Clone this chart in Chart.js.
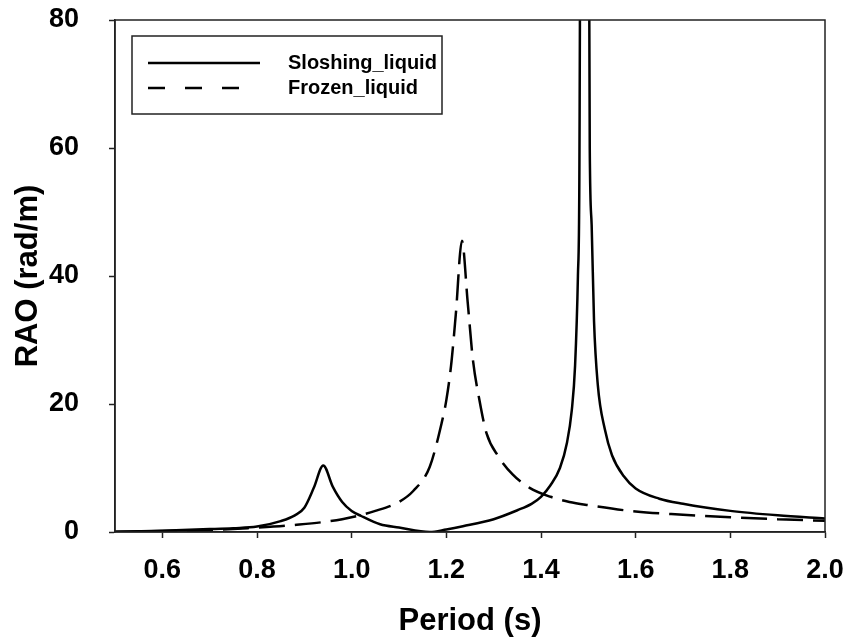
<!DOCTYPE html>
<html>
<head>
<meta charset="utf-8">
<script src="https://cdn.jsdelivr.net/npm/chart.js@4/dist/chart.umd.min.js"></script>
<style>
  html, body { margin: 0; padding: 0; background: #fff; }
  #wrap { width: 850px; height: 643px; position: relative; }
</style>
</head>
<body>
<div id="wrap"><canvas id="c" width="850" height="643"></canvas></div>
<script>
// ---- data ----
const seriesNames = ['Sloshing_liquid', 'Frozen_liquid'];

const sloshPeriod = [0.5, 0.6, 0.7, 0.75, 0.8, 0.85, 0.88, 0.9, 0.92, 0.94, 0.96, 0.98, 1.0, 1.02, 1.06, 1.1, 1.165, 1.2, 1.235, 1.3, 1.35, 1.38, 1.4, 1.42, 1.44, 1.455, 1.465, 1.472, 1.478, 1.481, 1.491, 1.503, 1.507, 1.512, 1.52, 1.535, 1.55, 1.575, 1.6, 1.65, 1.7, 1.8, 1.9, 2.0];
const sloshRAO    = [0.05, 0.2, 0.45, 0.6, 0.85, 1.7, 2.6, 3.8, 6.9, 10.4, 7.1, 4.7, 3.3, 2.5, 1.2, 0.7, 0.0, 0.4, 0.9, 2.0, 3.4, 4.4, 5.5, 7.3, 10.0, 14, 19, 26, 40, 55, 300, 60, 48, 33, 23, 16, 12, 8.7, 6.8, 5.2, 4.4, 3.3, 2.6, 2.1];

const frozenPeriod = [0.5, 0.6, 0.7, 0.78, 0.88, 0.98, 1.05, 1.1, 1.13, 1.165, 1.19, 1.2, 1.21, 1.22, 1.233, 1.245, 1.256, 1.27, 1.285, 1.31, 1.34, 1.376, 1.42, 1.46, 1.5, 1.6, 1.7, 1.8, 1.9, 2.0];
const frozenRAO    = [0.05, 0.15, 0.3, 0.6, 1.1, 2.0, 3.3, 4.7, 6.4, 10.2, 17.0, 20.6, 26.0, 34.0, 45.5, 36.0, 27.0, 20.6, 15.4, 11.8, 9.0, 6.9, 5.5, 4.7, 4.2, 3.2, 2.7, 2.3, 2.0, 1.75];

const xTickValues = [0.6, 0.8, 1.0, 1.2, 1.4, 1.6, 1.8, 2.0];
const yTickValues = [0, 20, 40, 60, 80];
const xTitle = 'Period (s)';
const yTitle = 'RAO (rad/m)';

// ---- build ----
const toPts = (xs, ys) => xs.map((x, i) => ({x: x, y: ys[i]}));
const FONT = "'Liberation Sans', Arial, sans-serif";
const AX = '#222';

const frame = {
  id: 'frame',
  afterDraw(chart) {
    const {ctx, chartArea: a} = chart;
    ctx.save();
    ctx.strokeStyle = AX;
    ctx.lineWidth = 1.5;
    ctx.strokeRect(a.left, a.top, a.right - a.left, a.bottom - a.top);
    // legend box
    const bx = 132, by = 36, bw = 310, bh = 78;
    ctx.fillStyle = '#fff';
    ctx.fillRect(bx, by, bw, bh);
    ctx.strokeRect(bx, by, bw, bh);
    const rows = [63, 88];
    chart.data.datasets.forEach((ds, i) => {
      ctx.beginPath();
      ctx.setLineDash(i === 0 ? [] : [17, 20]);
      ctx.strokeStyle = '#000';
      ctx.lineWidth = 2.5;
      ctx.moveTo(148, rows[i]);
      ctx.lineTo(i === 0 ? 260 : 250, rows[i]);
      ctx.stroke();
      ctx.setLineDash([]);
      ctx.fillStyle = '#000';
      ctx.font = 'bold 20px ' + FONT;
      ctx.textBaseline = 'middle';
      ctx.textAlign = 'left';
      ctx.fillText(ds.label, 288, rows[i]);
    });
    ctx.restore();
  }
};

new Chart(document.getElementById('c'), {
  type: 'line',
  data: {
    datasets: [
      { label: seriesNames[0], data: toPts(sloshPeriod, sloshRAO), borderColor: '#000', borderWidth: 2.5, pointRadius: 0, fill: false, cubicInterpolationMode: 'monotone' },
      { label: seriesNames[1], data: toPts(frozenPeriod, frozenRAO), borderColor: '#000', borderWidth: 2.5, borderDash: [26, 10], pointRadius: 0, fill: false, cubicInterpolationMode: 'monotone' }
    ]
  },
  options: {
    responsive: false,
    animation: false,
    events: [],
    layout: { padding: { top: 20, right: 25, left: 0, bottom: 0 } },
    plugins: { legend: { display: false }, tooltip: { enabled: false } },
    scales: {
      x: {
        type: 'linear', min: 0.5, max: 2.0,
        afterBuildTicks: s => { s.ticks = xTickValues.map(v => ({value: v})); },
        afterFit: s => { s.height = 111; s.paddingLeft = 0; s.paddingRight = 0; },
        grid: { display: true, drawOnChartArea: false, drawTicks: true, tickLength: 6, tickColor: AX, tickWidth: 1.5 },
        border: { display: true, color: AX, width: 1.5 },
        ticks: { color: '#000', font: { family: FONT, size: 27, weight: 'bold' }, padding: 16, maxRotation: 0, autoSkip: false, callback: v => Number(v).toFixed(1) },
        title: { display: true, text: xTitle, color: '#000', font: { family: FONT, size: 31, weight: 'bold' }, padding: { top: 0, bottom: 3 } }
      },
      y: {
        type: 'linear', min: 0, max: 80,
        afterBuildTicks: s => { s.ticks = yTickValues.map(v => ({value: v})); },
        afterFit: s => { s.width = 115; s.paddingTop = 0; s.paddingBottom = 0; },
        grid: { display: true, drawOnChartArea: false, drawTicks: true, tickLength: 6, tickColor: AX, tickWidth: 1.5 },
        border: { display: true, color: AX, width: 1.5 },
        ticks: { color: '#000', font: { family: FONT, size: 27, weight: 'bold' }, padding: 30, autoSkip: false, callback: v => String(v) },
        title: { display: true, text: yTitle, color: '#000', font: { family: FONT, size: 31, weight: 'bold' }, padding: { top: 10, bottom: 0 } }
      }
    }
  },
  plugins: [frame]
});
</script>
</body>
</html>
